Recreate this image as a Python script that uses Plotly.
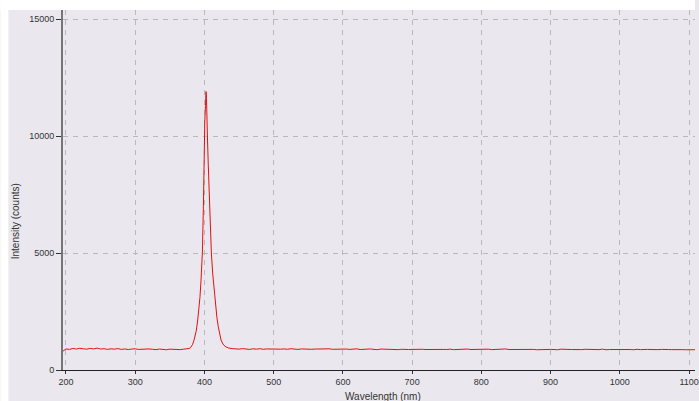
import plotly.graph_objects as go

# ---- data ----
left_wl = [195, 200, 205, 210, 215, 220, 225, 230, 235, 240, 245, 250, 255, 260, 265, 270,
           275, 280, 285, 290, 295, 300, 305, 310, 315, 320, 325, 330, 335, 340, 345, 350,
           355, 360, 365, 370, 375, 378]
left_int = [790, 900, 880, 920, 895, 930, 905, 890, 925, 900, 935, 895, 910, 880, 905, 890,
            915, 880, 900, 875, 895, 905, 880, 890, 870, 900, 885, 870, 895, 880, 865, 890,
            875, 885, 870, 890, 895, 920]

peak_wl = [380, 383, 385, 388, 390, 392, 393.5, 395, 397, 398.5, 399.5, 400.5, 401.5, 402.3,
           403, 403.5, 404.3, 405.5, 407, 408.5, 410, 412, 414, 416, 418, 420, 422, 424, 426,
           428, 431, 435, 440]
peak_int = [960, 1100, 1280, 1650, 2050, 2600, 3100, 3800, 5000, 7000, 9500, 10600, 11300, 11900,
            11600, 11250, 10000, 8800, 7300, 6100, 5000, 4100, 3400, 2800, 2250, 1850, 1500, 1280, 1150,
            1060, 990, 940, 915]

right_wl = list(range(445, 1111, 5))
right_int = [905, 890, 915, 895, 880, 905, 890, 910, 885, 900, 895, 880, 905, 890, 900, 885,
             910, 895, 880, 900, 890, 905, 885, 895, 900, 880, 895, 905, 885, 890, 900, 885,
             895, 880, 890, 905, 875, 890, 885, 900, 880, 870, 895, 885, 875, 890, 880, 870,
             885, 895, 875, 880, 890, 870, 885, 875, 880, 895, 870, 885, 880, 875, 890, 870,
             880, 885, 870, 895, 875, 880, 870, 885,
             875, 890, 870, 880, 885, 870, 900, 875, 880, 865, 885, 875, 870, 890, 880, 865,
             875, 885, 870, 880, 875, 865, 890, 870, 880, 875, 865, 880, 870, 885, 875, 865,
             880, 870, 890, 865, 875, 880, 870, 865,
             880, 870, 875, 865, 885, 870, 860, 880, 875, 865, 870, 880, 865, 875, 870, 860,
             880, 870, 865, 875, 870, 865]
n = min(len(right_wl), len(right_int))
right_wl, right_int = right_wl[:n], right_int[:n]

wavelength = left_wl + peak_wl + right_wl
intensity = left_int + peak_int + right_int

x_ticks = [200, 300, 400, 500, 600, 700, 800, 900, 1000, 1100]
y_ticks = [0, 5000, 10000, 15000]

BG = "#EAE8EE"
W, H = 699, 401
ML, MR, MT, MB = 63, 0, 10, 31
PW, PH = W - ML - MR, H - MT - MB

fig = go.Figure()
fig.add_trace(go.Scatter(x=wavelength, y=intensity, mode="lines",
                         line=dict(color="#E31010", width=1), hoverinfo="skip"))

grid = dict(showgrid=True, gridcolor="#B9B9B9", griddash="5px,5px", gridwidth=1)
fig.update_layout(
    width=W, height=H,
    margin=dict(l=ML, r=MR, t=MT, b=MB, pad=0),
    paper_bgcolor=BG, plot_bgcolor=BG,
    showlegend=False,
    font=dict(family="Liberation Sans, Arial, sans-serif", size=9, color="#333333"),
    xaxis=dict(range=[195.7, 1108.6], tickvals=x_ticks, ticktext=[str(v) for v in x_ticks],
               showline=True, linecolor="#222222", linewidth=1, zeroline=False,
               ticks="outside", ticklen=3, tickcolor="#333333",
               ticklabeloverflow="allow", **grid),
    yaxis=dict(range=[0, 15385], tickvals=y_ticks, ticktext=[str(v) for v in y_ticks],
               showline=True, linecolor="#757575", linewidth=2, zeroline=False,
               ticks="outside", ticklen=5, tickcolor="#333333",
               ticklabeloverflow="allow", **grid),
)

# white page strips at top and left, as in the reference screenshot
fig.add_shape(type="rect", xref="paper", yref="paper",
              x0=-ML / PW, x1=-(ML - 8) / PW, y0=-MB / PH, y1=1 + MT / PH,
              fillcolor="white", line_width=0, layer="above")
fig.add_shape(type="rect", xref="paper", yref="paper",
              x0=-ML / PW, x1=1, y0=1, y1=1 + MT / PH,
              fillcolor="white", line_width=0, layer="above")

fig.add_annotation(text="Intensity (counts)", xref="paper", yref="paper",
                   x=-(ML - 15) / PW, y=1 - (221 - MT) / PH, textangle=-90,
                   showarrow=False, font=dict(size=10, color="#333333"),
                   xanchor="center", yanchor="middle")
fig.add_annotation(text="Wavelength (nm)", xref="paper", yref="paper",
                   x=(385 - ML) / PW, y=1 - (396 - MT) / PH, showarrow=False,
                   font=dict(size=10, color="#333333"), xanchor="center", yanchor="middle")

fig.write_html("out.html", config={"displayModeBar": False, "staticPlot": True},
               post_script="document.body.style.margin='0';document.body.style.overflow='hidden';")
